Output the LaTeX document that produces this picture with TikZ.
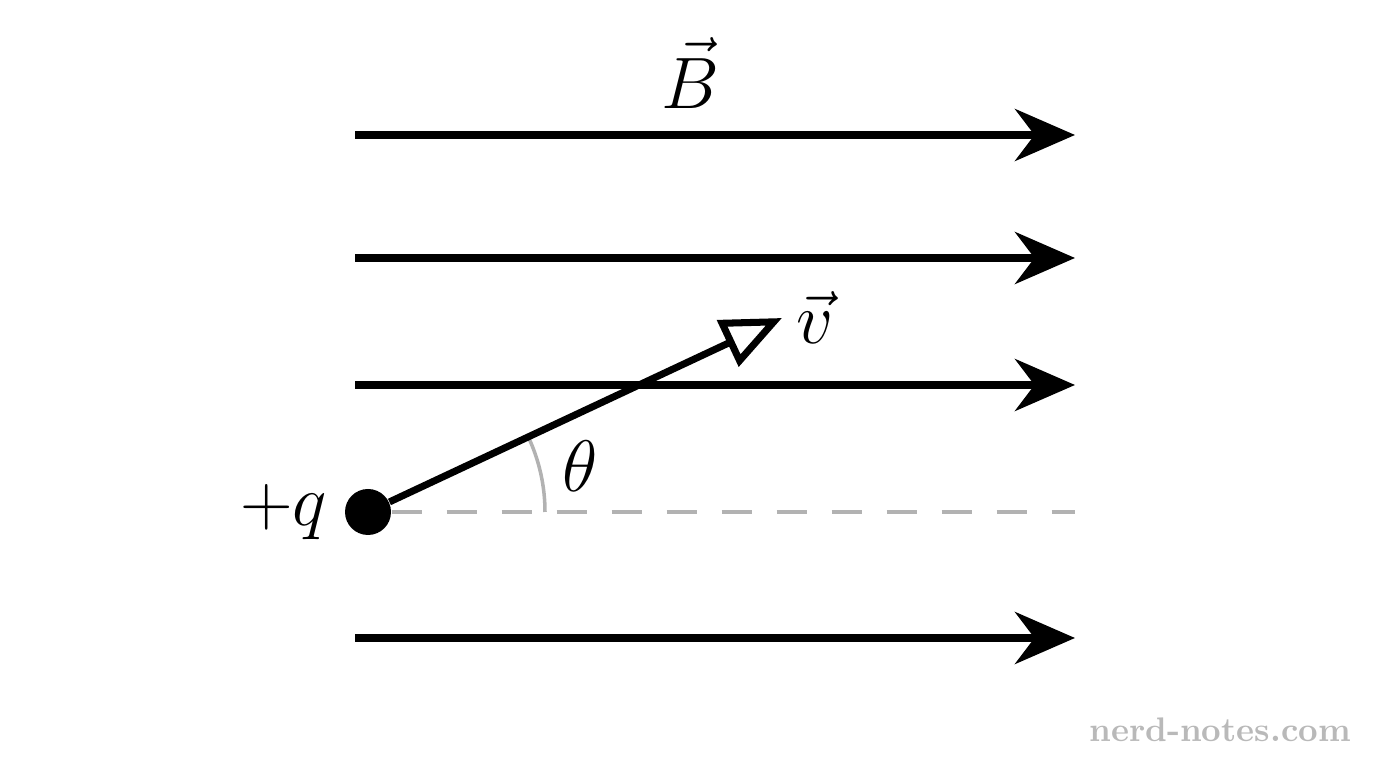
\documentclass[tikz,border=0pt]{standalone}
\usepackage{amsmath}
\usetikzlibrary{arrows.meta,positioning}
\begin{document}
\begin{tikzpicture}[>=Stealth, font=\fontsize{22}{26}\selectfont]
\tikzstyle{field} = [line width=2pt, -{Stealth[length=0.6cm, width=0.52cm]}]
\tikzstyle{vel} = [line width=2pt, -{Triangle[open, length=0.6cm, width=0.5cm]}]
\tikzstyle{guide} = [gray!60, line width=1pt]
\useasboundingbox (0,0) rectangle (13.76,7.68);
% field lines
\foreach \y/\n in {6.33/1, 5.10/2, 3.83/3, 1.30/4} {
  \coordinate (s\n) at (3.55,\y);
  \coordinate (e\n) at (10.75,\y);
  \draw[field] (s\n) -- (e\n);
}
\node (B) at (6.90,6.95) {$\vec{B}$};
% charge
\node[circle, fill, inner sep=0pt, minimum size=0.46cm] (q) at (3.68,2.56) {};
\node[left=0.05cm of q] (qlabel) {$+q$};
\coordinate (h) at (10.75,2.56);
\coordinate (v) at (7.82,4.50);
\draw[guide, dash pattern=on 0.3cm off 0.25cm] (q) -- (h);
\draw[guide] ([xshift=1.77cm]q.center) arc (0:25.2:1.77cm);
\draw[vel] (q) -- (v);
\node[right=0.02cm of v] (vlabel) {$\vec{v}$};
\node (theta) at (5.80,3.02) {$\theta$};
\node[text=gray!55, font=\fontsize{9.7}{12}\selectfont\bfseries] (wm) at (12.20,0.38) {nerd-notes.com};
\end{tikzpicture}
\end{document}
